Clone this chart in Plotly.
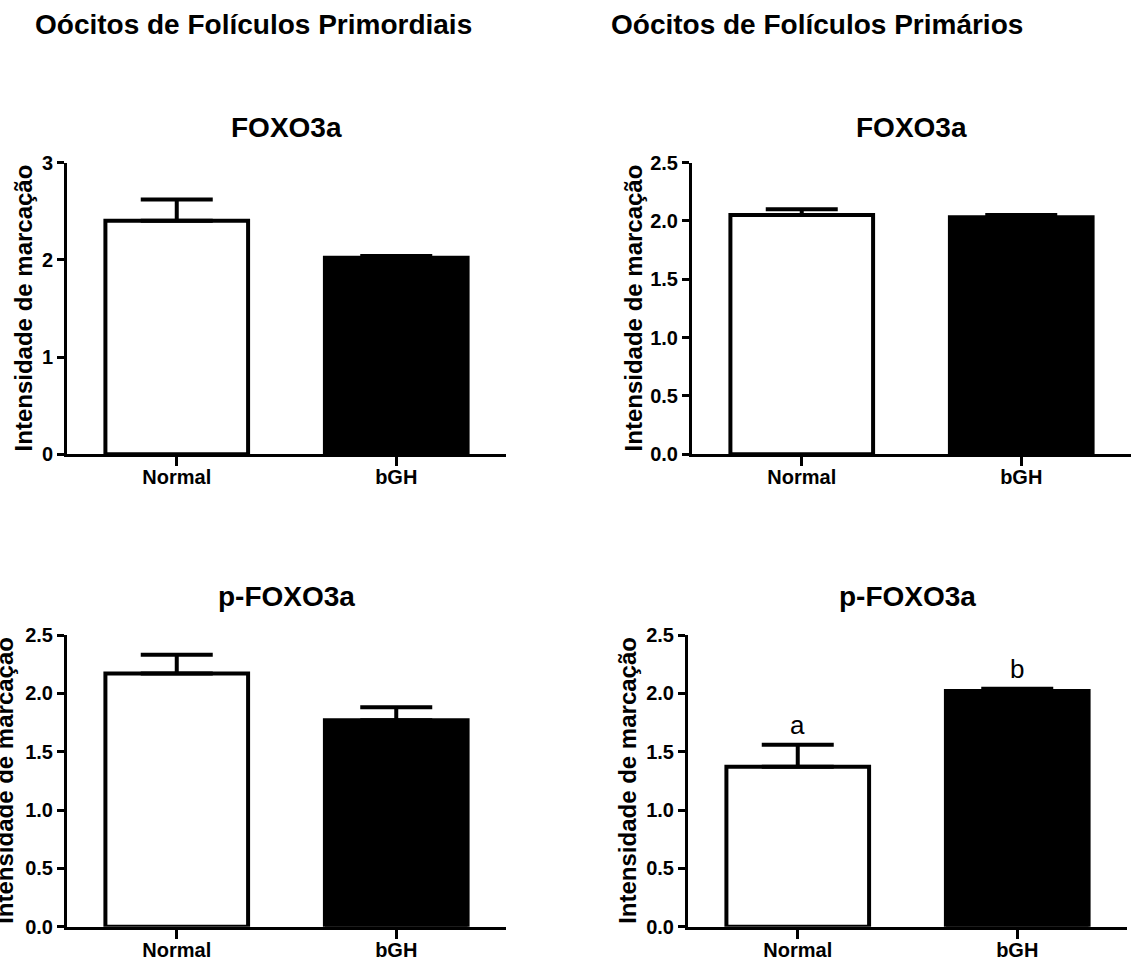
import plotly.graph_objects as go

# ---------------- data ----------------
categories = ["Normal", "bGH"]
header_titles = ["Oócitos de Folículos Primordiais", "Oócitos de Folículos Primários"]
panel_titles = ["FOXO3a", "FOXO3a", "p-FOXO3a", "p-FOXO3a"]
y_title = "Intensidade de marcação"

primordial_foxo_mean = [2.40, 2.02]
primordial_foxo_sem = [0.22, 0.02]
primary_foxo_mean = [2.05, 2.03]
primary_foxo_sem = [0.05, 0.02]
primordial_pfoxo_mean = [2.17, 1.77]
primordial_pfoxo_sem = [0.16, 0.11]
primary_pfoxo_mean = [1.37, 2.02]
primary_pfoxo_sem = [0.19, 0.02]
primary_pfoxo_letters = ["a", "b"]

ticks_0_3 = [0, 1, 2, 3]
ticktext_0_3 = ["0", "1", "2", "3"]
ticks_0_25 = [0, 0.5, 1.0, 1.5, 2.0, 2.5]
ticktext_0_25 = ["0.0", "0.5", "1.0", "1.5", "2.0", "2.5"]

bar_colors = ["white", "black"]

# ---------------- geometry (page pixels) ----------------
W, H = 1133, 962


def fx(p):
    return p / W


def fy(p):
    return 1 - p / H


FONT = "Arial, Liberation Sans, sans-serif"

panels = [
    dict(x0=67, x1=506, top=162.5, bot=454.3, ymax=3, tv=ticks_0_3, tt=ticktext_0_3,
         mean=primordial_foxo_mean, sem=primordial_foxo_sem, title_y=127, ytitle_x=23),
    dict(x0=692, x1=1131, top=162.5, bot=454.3, ymax=2.5, tv=ticks_0_25, tt=ticktext_0_25,
         mean=primary_foxo_mean, sem=primary_foxo_sem, title_y=127, ytitle_x=633),
    dict(x0=67, x1=506, top=635, bot=926.7, ymax=2.5, tv=ticks_0_25, tt=ticktext_0_25,
         mean=primordial_pfoxo_mean, sem=primordial_pfoxo_sem, title_y=596, ytitle_x=5),
    dict(x0=688, x1=1127, top=635, bot=926.7, ymax=2.5, tv=ticks_0_25, tt=ticktext_0_25,
         mean=primary_pfoxo_mean, sem=primary_pfoxo_sem, title_y=596, ytitle_x=628),
]

fig = go.Figure()
annotations = []
layout_axes = {}

for i, p in enumerate(panels, start=1):
    sfx = "" if i == 1 else str(i)
    fig.add_trace(go.Bar(
        x=categories,
        y=p["mean"],
        width=0.65,
        marker=dict(color=bar_colors, line=dict(color="black", width=4)),
        error_y=dict(type="data", symmetric=False, array=p["sem"], arrayminus=[0, 0],
                     color="black", thickness=4, width=36),
        xaxis="x" + sfx, yaxis="y" + sfx,
        showlegend=False,
        hoverinfo="skip",
    ))
    layout_axes["xaxis" + sfx] = dict(
        domain=[fx(p["x0"]), fx(p["x1"])],
        range=[-0.5, 1.5],
        type="category",
        anchor="y" + sfx,
        automargin=False,
        showline=True, linecolor="black", linewidth=3,
        ticks="outside", ticklen=9, tickwidth=3, tickcolor="black",
        ticklabelstandoff=-6,
        tickfont=dict(family=FONT, size=20, color="black", weight="bold"),
        showgrid=False, zeroline=False, fixedrange=True,
    )
    layout_axes["yaxis" + sfx] = dict(
        domain=[fy(p["bot"]), fy(p["top"])],
        range=[0, p["ymax"]],
        anchor="x" + sfx,
        automargin=False,
        tickmode="array", tickvals=p["tv"], ticktext=p["tt"],
        showline=True, linecolor="black", linewidth=3,
        ticks="outside", ticklen=7, tickwidth=3, tickcolor="black",
        tickfont=dict(family=FONT, size=20, color="black", weight="bold"),
        showgrid=False, zeroline=False, fixedrange=True,
    )
    cx = (p["x0"] + p["x1"]) / 2
    annotations.append(dict(
        text="<b>" + panel_titles[i - 1] + "</b>", xref="paper", yref="paper",
        x=fx(cx), y=fy(p["title_y"]), xanchor="center", yanchor="middle",
        showarrow=False, font=dict(family=FONT, size=28, color="black"),
    ))
    annotations.append(dict(
        text="<b>" + y_title + "</b>", xref="paper", yref="paper",
        x=fx(p["ytitle_x"]), y=fy((p["top"] + p["bot"]) / 2),
        xanchor="center", yanchor="middle", textangle=-90,
        showarrow=False, font=dict(family=FONT, size=24, color="black"),
    ))

# column headers
annotations.append(dict(
    text="<b>" + header_titles[0] + "</b>", xref="paper", yref="paper",
    x=fx(33), y=fy(25), xanchor="left", yanchor="middle", showarrow=False,
    font=dict(family=FONT, size=28, color="black"),
))
annotations.append(dict(
    text="<b>" + header_titles[1] + "</b>", xref="paper", yref="paper",
    x=fx(609), y=fy(25), xanchor="left", yanchor="middle", showarrow=False,
    font=dict(family=FONT, size=28, color="black"),
))

# significance letters
for cat, m, s, letter in zip(categories, primary_pfoxo_mean, primary_pfoxo_sem, primary_pfoxo_letters):
    annotations.append(dict(
        text=letter, xref="x4", yref="y4", x=cat, y=m + s,
        xanchor="center", yanchor="bottom", yshift=3, showarrow=False,
        font=dict(family=FONT, size=26, color="black"),
    ))

fig.update_layout(
    width=W, height=H,
    margin=dict(l=0, r=0, t=0, b=0, autoexpand=False),
    paper_bgcolor="white", plot_bgcolor="white",
    annotations=annotations,
    bargap=0,
    **layout_axes,
)

fig.write_html(
    "out.html",
    config={"displayModeBar": False, "staticPlot": True},
    post_script="document.body.style.margin='0';document.body.style.overflow='hidden';",
)
